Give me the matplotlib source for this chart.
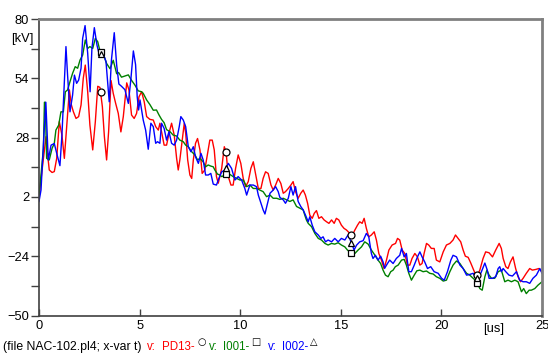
import numpy as np
import matplotlib
matplotlib.use('Agg')
from matplotlib import pyplot as plt

plt.rcParams['font.family'] = ['Liberation Sans', 'DejaVu Sans']

# (t [us], v [kV])
pd13 = [(0, 2.1), (0.22, 18.9), (0.35, 28.4), (0.43, 20.4), (0.51, 13.8), (0.65, 12.7), (0.76, 13.1),
        (0.88, 18.9), (1.01, 35.0), (1.14, 29.1), (1.26, 18.9), (1.37, 32.0), (1.51, 48.9), (1.61, 42.3),
        (1.71, 39.3), (1.84, 36.4), (1.97, 37.2), (2.09, 42.3), (2.2, 54.0), (2.3, 59.8), (2.42, 48.1),
        (2.53, 33.5), (2.67, 22.6), (2.8, 35.0), (2.92, 50.5), (3.03, 50.0), (3.15, 41.5), (3.25, 28.4),
        (3.36, 18.2), (3.46, 30.6), (3.58, 53.0), (3.69, 47.4), (3.81, 43.0), (3.94, 38.6), (4.07, 30.5),
        (4.19, 37.2), (4.36, 52.0), (4.47, 48.9), (4.6, 37.9), (4.73, 36.4), (4.85, 38.6), (4.97, 45.9),
        (5.1, 48.1), (5.23, 43.7), (5.35, 37.2), (5.51, 36.0), (5.68, 35.7), (5.8, 32.8), (5.93, 31.3),
        (6.01, 34.3), (6.09, 30.6), (6.22, 24.7), (6.34, 24.7), (6.48, 30.6), (6.59, 34.3), (6.72, 29.1),
        (6.84, 18.9), (6.92, 13.8), (7.0, 18.2), (7.12, 26.9), (7.22, 34.3), (7.29, 29.9), (7.39, 18.2),
        (7.5, 11.6), (7.59, 10.1), (7.67, 18.2), (7.78, 25.5), (7.88, 27.6), (8.0, 22.6), (8.11, 12.3),
        (8.24, 13.8), (8.38, 21.1), (8.49, 26.9), (8.61, 26.9), (8.71, 22.6), (8.82, 10.9), (8.91, 8.0),
        (9.08, 14.5), (9.21, 24.0), (9.3, 21.5), (9.41, 10.9), (9.54, 7.2), (9.65, 7.2), (9.77, 14.5),
        (9.9, 20.4), (10.03, 16.7), (10.15, 10.1), (10.27, 6.5), (10.4, 8.7), (10.53, 14.5), (10.65, 17.4),
        (10.76, 12.3), (10.9, 5.7), (11.03, 5.7), (11.14, 10.1), (11.26, 13.0), (11.39, 12.3), (11.53, 7.2),
        (11.64, 5.0), (11.76, 7.2), (11.89, 10.1), (12.02, 7.9), (12.14, 3.6), (12.25, 4.3), (12.39, 5.7),
        (12.52, 7.2), (12.63, 8.7), (12.75, 4.3), (12.88, 1.4), (13.01, 3.6), (13.13, 5.0), (13.24, 2.8),
        (13.35, -0.8), (13.46, -6.0), (13.58, -7.4), (13.68, -5.2), (13.79, -4.0), (13.91, -7.4),
        (14.04, -6.7), (14.17, -8.1), (14.29, -8.9), (14.41, -9.6), (14.54, -8.1), (14.67, -9.6),
        (14.78, -7.4), (14.9, -8.1), (15.03, -10.4), (15.16, -11.8), (15.28, -12.5), (15.45, -14.0),
        (15.56, -15.0), (15.7, -12.5), (15.83, -10.4), (15.94, -8.9), (16.06, -9.6), (16.16, -7.4),
        (16.27, -11.8), (16.39, -15.5), (16.52, -14.7), (16.66, -13.3), (16.77, -16.9), (16.89, -22.8),
        (17.02, -25.7), (17.15, -29.4), (17.27, -25.7), (17.39, -21.3), (17.55, -19.1), (17.72, -18.4),
        (17.82, -16.2), (17.93, -16.9), (18.05, -21.3), (18.18, -22.8), (18.31, -27.9), (18.43, -27.9),
        (18.54, -25.0), (18.68, -22.8), (18.81, -24.3), (18.93, -27.9), (19.04, -27.2), (19.14, -22.8),
        (19.26, -18.4), (19.37, -19.1), (19.5, -20.6), (19.64, -20.6), (19.75, -25.7), (19.92, -26.5),
        (20.09, -22.1), (20.25, -19.1), (20.42, -18.4), (20.58, -16.9), (20.7, -14.7), (20.83, -16.2),
        (20.96, -17.7), (21.08, -21.3), (21.19, -24.0), (21.33, -24.5), (21.46, -27.0), (21.6, -30.0),
        (21.75, -33.0), (21.91, -30.1), (22.07, -25.0), (22.2, -22.1), (22.37, -22.5), (22.54, -24.3),
        (22.7, -21.3), (22.87, -18.4), (22.98, -20.6), (23.07, -25.0), (23.2, -28.6), (23.31, -29.4),
        (23.43, -26.5), (23.56, -24.3), (23.69, -29.4), (23.81, -33.0), (23.93, -35.2), (24.06, -33.7),
        (24.22, -31.5), (24.39, -29.4), (24.52, -30.1), (24.69, -29.8), (24.85, -29.4), (25.0, -30.8)]

i001 = [(0, 2.1), (0.22, 23.3), (0.27, 43.5), (0.31, 43.5), (0.38, 18.9), (0.51, 18.2), (0.65, 23.3),
        (0.76, 25.4), (0.84, 31.3), (0.98, 33.5), (1.09, 39.3), (1.21, 39.3), (1.31, 48.1), (1.42, 48.9),
        (1.54, 52.5), (1.67, 56.2), (1.8, 59.1), (1.92, 58.4), (2.04, 62.0), (2.17, 64.2), (2.3, 70.8),
        (2.42, 67.1), (2.53, 67.9), (2.67, 67.1), (2.8, 71.5), (2.92, 70.0), (3.03, 66.0), (3.11, 65.2),
        (3.2, 64.5), (3.36, 60.5), (3.53, 58.2), (3.69, 61.9), (3.86, 56.0), (3.96, 56.5), (4.1, 54.5),
        (4.27, 55.0), (4.44, 55.5), (4.6, 53.1), (4.77, 51.0), (4.93, 48.5), (5.1, 48.1), (5.18, 47.4),
        (5.35, 44.5), (5.51, 42.5), (5.68, 40.0), (5.84, 40.1), (5.96, 38.0), (6.09, 36.0), (6.22, 34.5),
        (6.34, 31.5), (6.51, 30.6), (6.67, 29.1), (6.84, 28.7), (7.0, 26.9), (7.17, 26.2), (7.29, 24.7),
        (7.42, 24.0), (7.59, 21.8), (7.75, 20.4), (7.88, 18.2), (8.0, 18.9), (8.16, 17.4), (8.28, 15.2),
        (8.41, 16.0), (8.54, 15.5), (8.66, 15.2), (8.74, 13.8), (8.87, 12.0), (8.99, 11.6), (9.08, 10.9),
        (9.24, 11.6), (9.41, 12.3), (9.65, 10.9), (9.82, 10.1), (9.99, 9.4), (10.15, 9.4), (10.32, 6.5),
        (10.48, 7.2), (10.65, 5.7), (10.81, 5.7), (10.98, 5.0), (11.14, 4.3), (11.31, 2.1), (11.48, 2.8),
        (11.64, 1.4), (11.81, 1.4), (11.97, 0.9), (12.14, 1.4), (12.3, 0.7), (12.47, 0.0), (12.63, 0.7),
        (12.8, -2.2), (12.97, -3.0), (13.13, -3.7), (13.21, -6.0), (13.29, -8.1), (13.38, -9.6),
        (13.55, -11.1), (13.71, -14.0), (13.88, -16.2), (14.04, -16.9), (14.21, -18.4), (14.37, -19.1),
        (14.54, -18.4), (14.7, -18.7), (14.87, -18.1), (15.03, -19.1), (15.2, -19.9), (15.33, -21.3),
        (15.5, -22.5), (15.7, -22.8), (15.86, -21.3), (16.03, -19.9), (16.19, -17.7), (16.36, -18.7),
        (16.52, -21.3), (16.69, -23.5), (16.85, -25.7), (16.98, -27.2), (17.1, -30.1), (17.22, -32.3),
        (17.35, -33.0), (17.48, -30.8), (17.6, -30.1), (17.71, -28.6), (17.85, -27.9), (18.02, -25.7),
        (18.15, -25.4), (18.26, -27.9), (18.38, -31.5), (18.51, -34.5), (18.65, -32.3), (18.78, -30.4),
        (18.93, -30.1), (19.09, -30.8), (19.26, -30.5), (19.42, -31.5), (19.59, -31.8), (19.75, -33.0),
        (19.92, -33.7), (20.09, -34.9), (20.25, -34.5), (20.42, -30.8), (20.58, -27.9), (20.75, -26.1),
        (20.92, -27.2), (21.08, -29.4), (21.25, -31.5), (21.41, -32.3), (21.58, -33.7), (21.75, -35.0),
        (21.91, -38.2), (22.03, -38.9), (22.16, -33.0), (22.26, -30.1), (22.37, -32.3), (22.49, -33.7),
        (22.65, -33.7), (22.82, -30.8), (22.98, -30.1), (23.15, -35.2), (23.31, -34.5), (23.48, -35.2),
        (23.65, -34.5), (23.81, -35.2), (23.98, -39.6), (24.09, -38.2), (24.22, -40.4), (24.36, -38.9),
        (24.47, -38.9), (24.64, -38.2), (24.8, -36.7), (25.0, -35.2)]

i002 = [(0, 0.0), (0.1, 5.0), (0.25, 30.0), (0.34, 43.5), (0.46, 18.2), (0.6, 24.7), (0.76, 25.4),
        (0.9, 20.4), (1.04, 15.7), (1.14, 29.1), (1.26, 52.5), (1.34, 67.9), (1.42, 55.4), (1.54, 39.3),
        (1.67, 46.7), (1.76, 55.4), (1.87, 51.8), (1.97, 53.2), (2.09, 58.4), (2.17, 71.5), (2.29, 77.1),
        (2.42, 65.0), (2.54, 48.1), (2.63, 67.1), (2.75, 76.2), (2.88, 68.6), (3.0, 64.2), (3.16, 65.7),
        (3.33, 61.3), (3.49, 43.7), (3.6, 62.0), (3.74, 74.0), (3.86, 59.8), (3.97, 51.5), (4.1, 50.5),
        (4.27, 49.0), (4.44, 43.0), (4.57, 54.0), (4.69, 66.0), (4.8, 60.0), (4.88, 46.0), (4.95, 40.1),
        (5.02, 44.5), (5.18, 35.7), (5.3, 31.3), (5.43, 22.9), (5.56, 34.3), (5.68, 32.8), (5.8, 25.5),
        (5.89, 26.2), (6.01, 25.5), (6.09, 34.3), (6.22, 32.0), (6.34, 26.9), (6.46, 30.6), (6.59, 25.5),
        (6.72, 24.7), (6.84, 26.9), (6.97, 32.8), (7.05, 37.2), (7.17, 35.7), (7.29, 32.8), (7.42, 24.0),
        (7.55, 21.8), (7.67, 24.0), (7.78, 19.6), (7.92, 16.7), (8.05, 21.1), (8.16, 18.2), (8.28, 11.6),
        (8.41, 11.6), (8.54, 12.3), (8.66, 7.6), (8.82, 7.2), (8.94, 10.1), (9.08, 13.0), (9.24, 13.8),
        (9.41, 16.7), (9.57, 14.5), (9.74, 9.4), (9.9, 10.9), (10.07, 9.4), (10.23, 5.7), (10.32, 2.8),
        (10.48, 7.2), (10.65, 7.2), (10.81, 6.5), (10.9, 2.8), (11.03, -0.8), (11.14, -3.7), (11.23, -5.5),
        (11.36, -0.8), (11.48, 3.6), (11.64, 5.0), (11.76, 6.5), (11.89, 4.3), (11.97, 1.8), (12.14, 0.7),
        (12.25, -0.8), (12.39, 1.4), (12.52, 6.5), (12.63, 2.8), (12.75, 6.5), (12.88, 0.0), (13.01, -2.2),
        (13.13, -3.7), (13.24, -5.9), (13.38, -8.9), (13.46, -6.7), (13.58, -10.4), (13.71, -13.3),
        (13.88, -14.7), (14.01, -16.2), (14.12, -15.5), (14.24, -17.7), (14.37, -16.9), (14.54, -17.7),
        (14.7, -16.2), (14.87, -17.7), (15.03, -16.2), (15.2, -16.9), (15.36, -14.7), (15.53, -18.1),
        (15.66, -21.3), (15.78, -19.2), (15.94, -17.7), (16.11, -17.2), (16.27, -14.0), (16.39, -15.5),
        (16.52, -22.8), (16.6, -25.0), (16.72, -23.6), (16.85, -25.7), (16.98, -24.0), (17.1, -26.5),
        (17.18, -29.3), (17.32, -27.2), (17.43, -25.7), (17.6, -27.2), (17.76, -25.0), (17.93, -23.6),
        (18.02, -20.6), (18.15, -24.3), (18.26, -22.8), (18.38, -30.8), (18.51, -30.8), (18.65, -27.9),
        (18.81, -24.3), (18.93, -22.1), (19.04, -24.3), (19.17, -26.5), (19.31, -29.4), (19.47, -28.6),
        (19.64, -30.8), (19.84, -31.5), (20.01, -33.7), (20.14, -34.5), (20.3, -30.8), (20.47, -25.7),
        (20.58, -23.6), (20.75, -24.3), (20.92, -27.9), (21.08, -29.4), (21.25, -32.3), (21.41, -32.0),
        (21.58, -31.5), (21.75, -34.0), (21.88, -33.0), (21.99, -30.8), (22.16, -27.0), (22.28, -30.1),
        (22.37, -33.7), (22.54, -33.7), (22.7, -33.0), (22.82, -29.4), (22.9, -28.6), (22.98, -30.8),
        (23.07, -29.4), (23.2, -30.8), (23.36, -32.3), (23.53, -32.7), (23.73, -30.8), (23.89, -34.5),
        (24.06, -35.2), (24.22, -35.2), (24.39, -35.9), (24.55, -33.7), (24.72, -32.3), (24.89, -29.4),
        (25.0, -31.5)]

# times where the markers sit on the curves
marker_t = [3.06, 9.3, 15.53, 21.78]

series = [(pd13, 'red', 'o'), (i001, 'green', 's'), (i002, 'blue', '^')]

fig = plt.figure(figsize=(5.48, 3.54), dpi=100)
ax = fig.add_axes([39 / 548, 1 - 315.5 / 354, 503 / 548, 296.5 / 354])

for data, col, mk in series:
    t, v = np.array(data).T
    ax.plot(t, v, color=col, lw=1.0)
    ax.plot(marker_t, np.interp(marker_t, t, v), ls='none', marker=mk, ms=5,
            mfc='white', mec='black', mew=0.9, zorder=5)

ax.set_xlim(0, 25)
ax.set_ylim(-50, 80)
ax.set_xticks([0, 5, 10, 15, 20, 25])
ax.set_yticks(np.arange(-50, 81, 26))
ax.set_yticks(np.arange(-37, 80, 26), minor=True)

for s in ['top', 'right']:
    ax.spines[s].set_color('#808080')
    ax.spines[s].set_linewidth(2)
for s in ['left', 'bottom']:
    ax.spines[s].set_color('#404040')
    ax.spines[s].set_linewidth(1.2)

ax.tick_params(axis='y', which='both', direction='out', length=6, width=1, color='#404040',
               labelsize=9.3, pad=1)
ax.tick_params(axis='x', which='both', direction='in', length=5, width=1, color='#404040',
               labelsize=9.3, pad=3)

fig.text(22 / 548, 1 - 39 / 354, '[kV]', ha='center', va='center', fontsize=9.3)
fig.text(494 / 548, 1 - 329 / 354, '[us]', ha='center', va='center', fontsize=9.3)

# legend line at the bottom: (x of "v:", x of name, x of symbol)
y0 = 1 - 347 / 354
fs = 8.3
fig.text(3 / 548, y0, '(file NAC-102.pl4; x-var t)', fontsize=8.8, va='center')
legend_items = [('PD13-', 'red', '○', 147, 162, 197),
                ('I001-', 'green', '□', 209, 223, 251),
                ('I002-', 'blue', '△', 268, 282, 310)]
for name, col, sym, xv, xn, xs in legend_items:
    fig.text(xv / 548, y0, 'v:', fontsize=fs, va='center', color=col)
    fig.text(xn / 548, y0, name, fontsize=fs, va='center', color=col)
    fig.text(xs / 548, y0 + 0.013, sym, fontsize=7, va='center', family=['DejaVu Sans'])

fig.savefig('out.png', dpi=100)
